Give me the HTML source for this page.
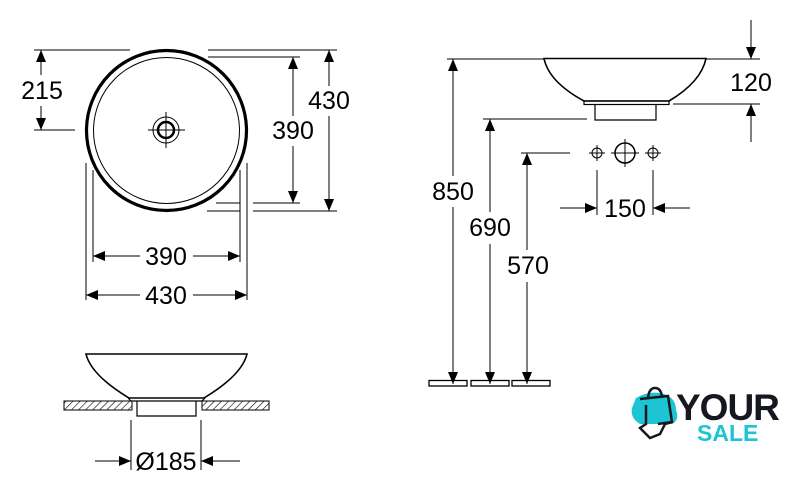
<!DOCTYPE html>
<html><head><meta charset="utf-8"><style>
html,body{margin:0;padding:0;background:#fff;width:792px;height:492px;overflow:hidden}
svg{display:block}
text{font-family:"Liberation Sans",Arial,sans-serif;font-size:25px;fill:#000}
</style></head><body>
<svg width="792" height="492" viewBox="0 0 792 492" xmlns="http://www.w3.org/2000/svg">
<defs>
<marker id="a" viewBox="0 0 12 10" refX="12" refY="5" markerWidth="12" markerHeight="10" markerUnits="userSpaceOnUse" orient="auto-start-reverse"><path d="M0,0 L12,5 L0,10 z" fill="#000"/></marker>
<pattern id="h" width="5" height="5" patternUnits="userSpaceOnUse" patternTransform="rotate(45)"><line x1="0" y1="0" x2="0" y2="5" stroke="#000" stroke-width="1.2"/></pattern>
</defs>
<g fill="none" stroke="#000" stroke-width="1">
<circle cx="166.5" cy="130.5" r="80" stroke-width="3.2"/>
<circle cx="166.5" cy="130.5" r="73"/>
<circle cx="166" cy="130" r="13"/>
<circle cx="166" cy="130" r="8" stroke-width="2.5"/>
<line x1="148" y1="130" x2="185" y2="130"/><line x1="166" y1="112" x2="166" y2="148"/>
<line x1="34" y1="50" x2="130" y2="50"/><line x1="34" y1="130" x2="75" y2="130"/>
<line x1="41" y1="75" x2="41" y2="50" marker-end="url(#a)"/>
<line x1="41" y1="106" x2="41" y2="130" marker-end="url(#a)"/>
<line x1="208" y1="50" x2="337" y2="50"/>
<line x1="208" y1="57" x2="300" y2="57"/>
<line x1="216" y1="203" x2="240" y2="203"/><line x1="253" y1="203" x2="300" y2="203"/>
<line x1="207" y1="211" x2="240" y2="211"/><line x1="253" y1="211" x2="337" y2="211"/>
<line x1="293" y1="116" x2="293" y2="57" marker-end="url(#a)"/>
<line x1="293" y1="146" x2="293" y2="203" marker-end="url(#a)"/>
<line x1="329" y1="86" x2="329" y2="50" marker-end="url(#a)"/>
<line x1="329" y1="116" x2="329" y2="211" marker-end="url(#a)"/>
<line x1="93" y1="170" x2="93" y2="262"/><line x1="240" y1="170" x2="240" y2="262"/>
<line x1="86" y1="163" x2="86" y2="300"/><line x1="247" y1="163" x2="247" y2="300"/>
<line x1="140" y1="256" x2="93" y2="256" marker-end="url(#a)"/>
<line x1="193" y1="256" x2="240" y2="256" marker-end="url(#a)"/>
<line x1="140" y1="295" x2="86" y2="295" marker-end="url(#a)"/>
<line x1="193" y1="295" x2="247" y2="295" marker-end="url(#a)"/>
<path d="M86,354 L247,354 Q242,375 204,398 L129,398 Q91,375 86,354 Z" stroke-width="1.6"/>
<path d="M128,398 L131,401 L202,401 L205,398" stroke-width="1.2"/>
<path d="M137,401 L137,416 L196,416 L196,401" stroke-width="1.2"/>
<rect x="64" y="401" width="68" height="9" fill="url(#h)"/>
<rect x="202" y="401" width="67" height="9" fill="url(#h)"/>
<line x1="131" y1="420" x2="131" y2="470"/><line x1="201" y1="420" x2="201" y2="470"/>
<line x1="95" y1="461" x2="131" y2="461" marker-end="url(#a)"/>
<line x1="240" y1="461" x2="201" y2="461" marker-end="url(#a)"/>
<path d="M544,58.5 L706,58.5 Q701,82 669,101 L584,101 Q549,82 544,58.5 Z" stroke-width="1.6"/>
<rect x="584" y="101" width="85" height="3.5" stroke-width="1.2"/>
<path d="M595,104.5 L595,120 L656,120 L656,104.5" stroke-width="1.2"/>
<line x1="447" y1="59" x2="545" y2="59"/><line x1="706" y1="59" x2="760" y2="59"/>
<line x1="673" y1="104" x2="760" y2="104"/>
<line x1="751" y1="20" x2="751" y2="59" marker-end="url(#a)"/>
<line x1="751" y1="142" x2="751" y2="104" marker-end="url(#a)"/>
<line x1="483" y1="119" x2="587" y2="119"/>
<line x1="521" y1="153" x2="570" y2="153"/>
<line x1="453" y1="176" x2="453" y2="59" marker-end="url(#a)"/>
<line x1="453" y1="207" x2="453" y2="384" marker-end="url(#a)"/>
<line x1="490" y1="212" x2="490" y2="119" marker-end="url(#a)"/>
<line x1="490" y1="244" x2="490" y2="384" marker-end="url(#a)"/>
<line x1="527" y1="250" x2="527" y2="153" marker-end="url(#a)"/>
<line x1="527" y1="282" x2="527" y2="384" marker-end="url(#a)"/>
<rect x="429" y="380.5" width="38" height="5.5" stroke-width="1.3"/>
<rect x="471" y="380.5" width="38" height="5.5" stroke-width="1.3"/>
<rect x="512" y="380.5" width="38" height="5.5" stroke-width="1.3"/>
<circle cx="597" cy="153" r="5"/><line x1="589" y1="153" x2="605" y2="153"/><line x1="597" y1="145" x2="597" y2="161"/>
<circle cx="625" cy="153" r="10" stroke-width="1.5"/><line x1="611" y1="153" x2="639" y2="153"/><line x1="625" y1="139" x2="625" y2="167"/>
<circle cx="653" cy="153" r="5"/><line x1="645" y1="153" x2="661" y2="153"/><line x1="653" y1="145" x2="653" y2="161"/>
<line x1="597" y1="170" x2="597" y2="215"/><line x1="653" y1="170" x2="653" y2="215"/>
<line x1="560" y1="208" x2="597" y2="208" marker-end="url(#a)"/>
<line x1="690" y1="208" x2="653" y2="208" marker-end="url(#a)"/>
</g>
<g text-anchor="middle" dominant-baseline="central">
<text x="42" y="91">215</text>
<text x="293" y="131">390</text>
<text x="329" y="101">430</text>
<text x="166" y="257">390</text>
<text x="166" y="296">430</text>
<text x="166" y="462">Ø185</text>
<text x="751" y="83">120</text>
<text x="453" y="192">850</text>
<text x="490" y="228">690</text>
<text x="528" y="266">570</text>
<text x="625" y="209">150</text>
</g>
<g>
<path d="M636,398 Q650,390 664,394 Q676,398 676,410 Q680,420 672,424 L640,424 Q630,418 632,408 Z" fill="#1cc4d4"/>
<path d="M640,399 L668,396 L672,422 L658,424" fill="none" stroke="#16181f" stroke-width="2.5"/>
<path d="M648,398 Q649,388 655,388 Q661,388 662,397" fill="none" stroke="#16181f" stroke-width="2.5"/>
<path d="M646,405 L646,424 L640,428 L650,438 L660,434 L665,424 L672,422" fill="none" stroke="#16181f" stroke-width="2.5"/>
<text x="676" y="420" style="font-size:37px;font-weight:bold;fill:#16181f;letter-spacing:-1px">YOUR</text>
<text x="697" y="441" style="font-size:23px;font-weight:bold;fill:#1cc4d4">SALE</text>
</g>
</svg>
</body></html>
